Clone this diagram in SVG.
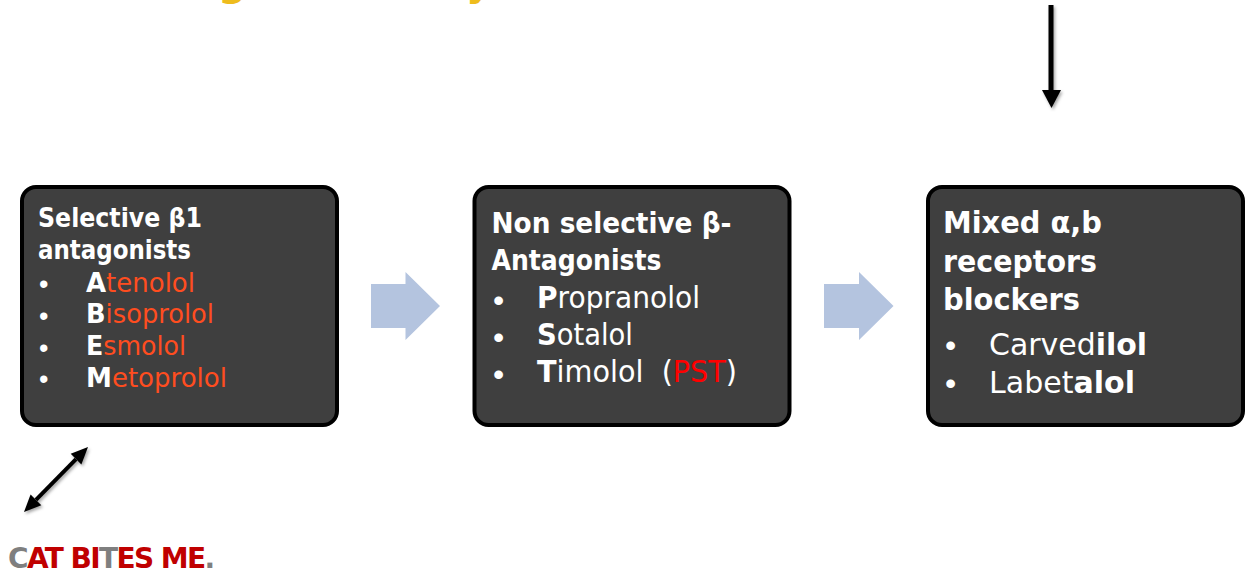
<svg xmlns="http://www.w3.org/2000/svg" width="1253" height="575" viewBox="0 0 1253 575">
<style>
.box{fill:#3f3f3f;stroke:#000;stroke-width:4}
.t{font-family:"DejaVu Sans",Verdana,sans-serif;fill:#fff}
.bu{font-family:"Liberation Sans",Arial,sans-serif;fill:#fff;font-size:32px}
.bs{font-family:"Liberation Sans",Arial,sans-serif;fill:#fff;font-size:27px}
.b{font-weight:bold}
.o{fill:#ff4d1f}
.r{fill:#ff0000}
.blk{fill:#b4c4df}
.g{fill:#7f7f7f}
.dr{fill:#c00000}
.y{font-family:"DejaVu Sans",sans-serif;font-weight:bold;fill:#eebc1d;font-size:40px}
</style>
<defs>
<filter id="sh" x="-30%" y="-30%" width="160%" height="160%">
<feDropShadow dx="1.5" dy="2" stdDeviation="1.5" flood-color="#000" flood-opacity="0.35"/>
</filter>
</defs>
<rect width="1253" height="575" fill="#fff"/>
<g id="title-fragment">
<text class="y" x="218" y="-5">g</text>
<text class="y" x="466" y="-5">y</text>
</g>
<g id="node-selective">
<rect class="box" x="22" y="187" width="315" height="238" rx="14"/>
<text class="t b" x="38" y="226.5" font-size="26" textLength="164" lengthAdjust="spacingAndGlyphs">Selective β1</text>
<text class="t b" x="38" y="258.5" font-size="26" textLength="153" lengthAdjust="spacingAndGlyphs">antagonists</text>
<text class="bs" x="39" y="293">•</text>
<text class="bs" x="39" y="324.5">•</text>
<text class="bs" x="39" y="356.5">•</text>
<text class="bs" x="39" y="388">•</text>
<g font-size="27">
<text class="t" x="86" y="291.5" textLength="109" lengthAdjust="spacingAndGlyphs"><tspan class="b">A</tspan><tspan class="o">tenolol</tspan></text>
<text class="t" x="86" y="323" textLength="128" lengthAdjust="spacingAndGlyphs"><tspan class="b">B</tspan><tspan class="o">isoprolol</tspan></text>
<text class="t" x="86" y="355" textLength="100" lengthAdjust="spacingAndGlyphs"><tspan class="b">E</tspan><tspan class="o">smolol</tspan></text>
<text class="t" x="86" y="386.5" textLength="141" lengthAdjust="spacingAndGlyphs"><tspan class="b">M</tspan><tspan class="o">etoprolol</tspan></text>
</g>
</g>
<g id="node-nonselective">
<rect class="box" x="474.5" y="187" width="315" height="238" rx="14"/>
<text class="t b" x="491.5" y="233" font-size="29" textLength="240" lengthAdjust="spacingAndGlyphs">Non selective β-</text>
<text class="t b" x="491.5" y="270" font-size="29" textLength="170" lengthAdjust="spacingAndGlyphs">Antagonists</text>
<text class="bu" x="493" y="311">•</text>
<text class="bu" x="493" y="348">•</text>
<text class="bu" x="493" y="384.5">•</text>
<g font-size="30">
<text class="t" x="537" y="308" textLength="163" lengthAdjust="spacingAndGlyphs"><tspan class="b">P</tspan>ropranolol</text>
<text class="t" x="537" y="345" textLength="96" lengthAdjust="spacingAndGlyphs"><tspan class="b">S</tspan>otalol</text>
<text class="t" x="537" y="381.5" textLength="200" lengthAdjust="spacingAndGlyphs" xml:space="preserve"><tspan class="b">T</tspan>imolol  (<tspan class="r">PST</tspan>)</text>
</g>
</g>
<g id="node-mixed">
<rect class="box" x="928" y="187" width="315" height="238" rx="14"/>
<text class="t b" x="943" y="233" font-size="30" textLength="159" lengthAdjust="spacingAndGlyphs">Mixed α,b</text>
<text class="t b" x="943" y="271.5" font-size="30" textLength="154" lengthAdjust="spacingAndGlyphs">receptors</text>
<text class="t b" x="943" y="310" font-size="30" textLength="137" lengthAdjust="spacingAndGlyphs">blockers</text>
<text class="bu" x="945" y="356">•</text>
<text class="bu" x="945" y="394">•</text>
<g font-size="31">
<text class="t" x="989" y="355" textLength="158" lengthAdjust="spacingAndGlyphs">Carved<tspan class="b">ilol</tspan></text>
<text class="t" x="989" y="393" textLength="146" lengthAdjust="spacingAndGlyphs">Labet<tspan class="b">alol</tspan></text>
</g>
</g>
<g id="connectors">
<polygon class="blk" points="371,284 405.5,284 405.5,272 440,306 405.5,340 405.5,328 371,328"/>
<polygon class="blk" points="824,284 859,284 859,272 893.5,306 859,340 859,328 824,328"/>
<g filter="url(#sh)">
<line x1="1051" y1="5" x2="1051" y2="92" stroke="#000" stroke-width="5"/>
<polygon points="1042,90 1061,90 1051.5,108" fill="#000"/>
</g>
<g filter="url(#sh)">
<line x1="35.96" y1="499.85" x2="76.04" y2="459.15" stroke="#000" stroke-width="4"/>
<polygon points="88,447 81.4,464.43 70.68,453.87" fill="#000"/>
<polygon points="24,512 41.32,505.13 30.6,494.57" fill="#000"/>
</g>
</g>
<g id="mnemonic">
<text class="t b" x="8" y="568" font-size="28" letter-spacing="-1.6"><tspan class="g">C</tspan><tspan class="dr">AT BI</tspan><tspan class="g">T</tspan><tspan class="dr">ES ME</tspan><tspan class="g">.</tspan></text>
</g>
</svg>
